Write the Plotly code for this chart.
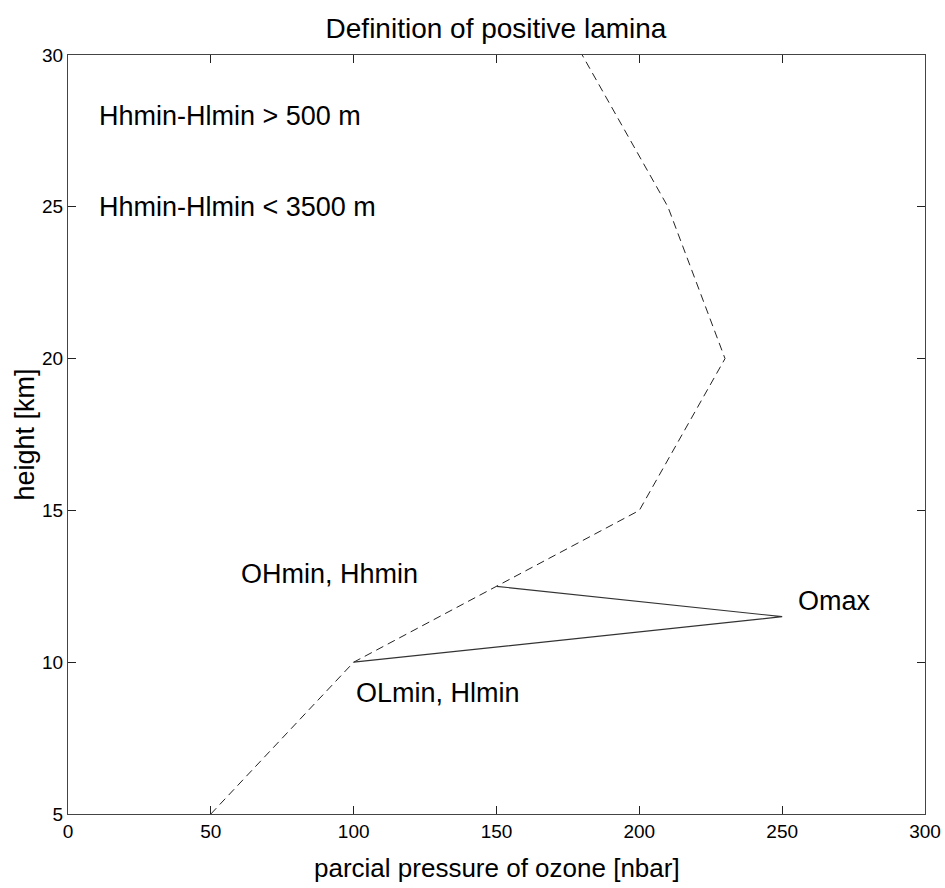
import plotly.graph_objects as go

# ---- data ----
profile_x = [50, 100, 150, 200, 230, 210, 180]        # parcial pressure [nbar]
profile_y = [5, 10, 12.5, 15, 20, 25, 30]              # height [km]
lamina_x = [150, 250, 100]
lamina_y = [12.5, 11.5, 10]
x_ticks = [0, 50, 100, 150, 200, 250, 300]
y_ticks = [5, 10, 15, 20, 25, 30]
label_text = ["Hhmin-Hlmin > 500 m", "Hhmin-Hlmin < 3500 m", "OHmin, Hhmin", "OLmin, Hlmin", "Omax"]
label_x = [10, 10, 60, 100, 255]
label_y = [28, 25, 12.9, 9, 12]

FONT = "Liberation Sans, Arial, sans-serif"

fig = go.Figure()
fig.add_trace(go.Scatter(x=profile_x, y=profile_y, mode="lines",
                         line=dict(color="#222222", width=1, dash="8px,5px"),
                         showlegend=False, hoverinfo="skip"))
fig.add_trace(go.Scatter(x=lamina_x, y=lamina_y, mode="lines",
                         line=dict(color="#333333", width=1.2),
                         showlegend=False, hoverinfo="skip"))

annotations = []
for t, x, y in zip(label_text, label_x, label_y):
    annotations.append(dict(x=x, y=y, xref="x", yref="y", text=t, showarrow=False,
                            xanchor="left", yanchor="middle",
                            font=dict(family=FONT, size=27, color="black")))
annotations.append(dict(x=0.5, y=-54/759, xref="paper", yref="paper",
                        text="parcial pressure of ozone [nbar]", showarrow=False,
                        xanchor="center", yanchor="middle",
                        font=dict(family=FONT, size=26, color="black")))
annotations.append(dict(x=-44/857, y=0.5, xref="paper", yref="paper",
                        text="height [km]", showarrow=False, textangle=-90,
                        xanchor="center", yanchor="middle",
                        font=dict(family=FONT, size=27, color="black")))

axis_common = dict(showgrid=False, zeroline=False, showline=True, mirror="ticks",
                   linecolor="#444444", linewidth=1.2, ticks="inside", ticklen=8,
                   tickcolor="#222222", tickwidth=1, automargin=False,
                   tickfont=dict(family=FONT, size=19, color="black"))

fig.update_layout(
    width=945, height=888,
    margin=dict(l=68, r=20, t=55, b=74),
    paper_bgcolor="white", plot_bgcolor="white",
    title=dict(text="Definition of positive lamina", x=496/945, xanchor="center",
               y=1 - 28/888, yanchor="middle", yref="container",
               font=dict(family=FONT, size=28, color="black")),
    xaxis=dict(range=[0, 300], tickvals=x_ticks, **axis_common),
    yaxis=dict(range=[5, 30], tickvals=y_ticks, **axis_common),
    annotations=annotations,
)

fig.write_html("out.html")
